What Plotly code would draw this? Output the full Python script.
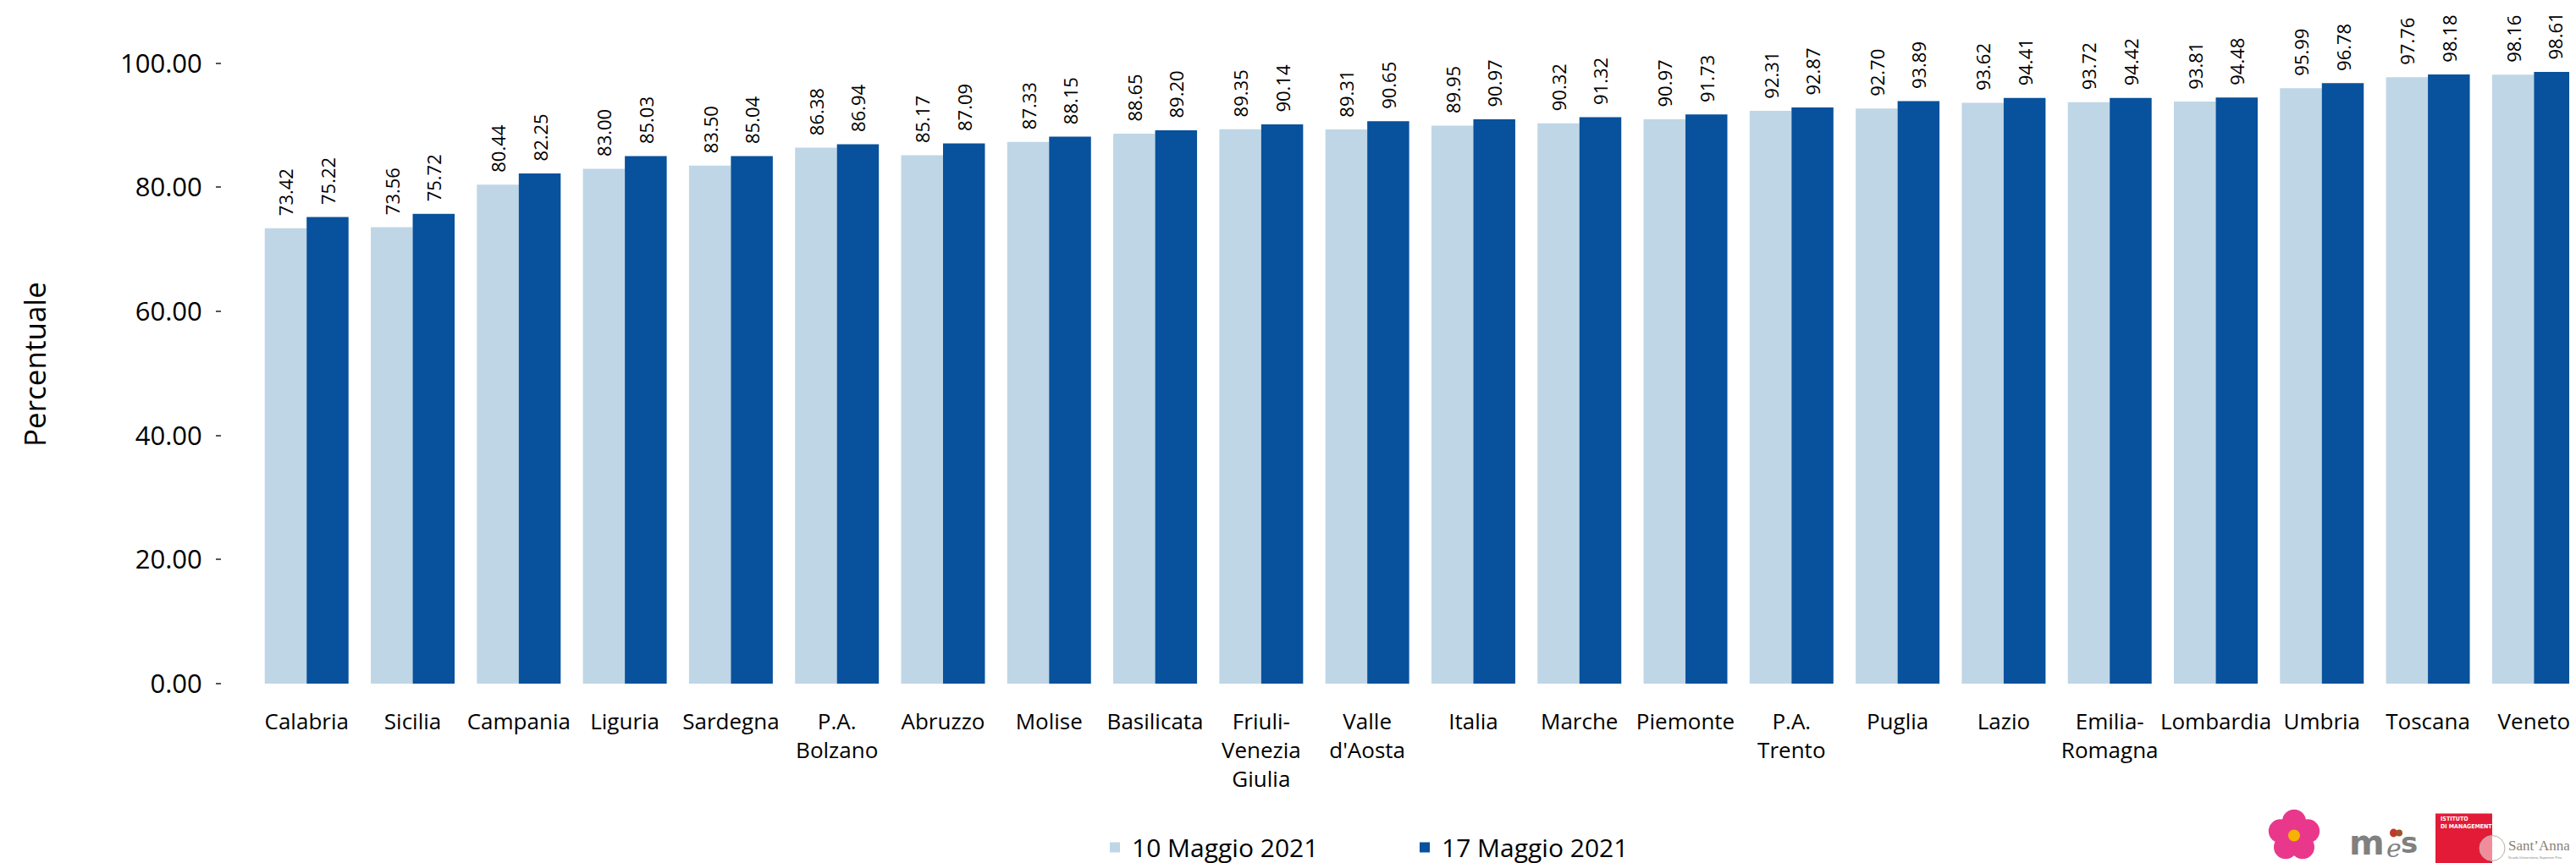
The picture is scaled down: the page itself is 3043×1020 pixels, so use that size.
import math
import plotly.graph_objects as go

# ---- data ----
regions = ["Calabria", "Sicilia", "Campania", "Liguria", "Sardegna", "P.A.<br>Bolzano",
           "Abruzzo", "Molise", "Basilicata", "Friuli-<br>Venezia<br>Giulia", "Valle<br>d'Aosta",
           "Italia", "Marche", "Piemonte", "P.A.<br>Trento", "Puglia", "Lazio",
           "Emilia-<br>Romagna", "Lombardia", "Umbria", "Toscana", "Veneto"]
series_names = ["10 Maggio 2021", "17 Maggio 2021"]
v_10_maggio = [73.42, 73.56, 80.44, 83.00, 83.50, 86.38, 85.17, 87.33, 88.65, 89.35, 89.31,
               89.95, 90.32, 90.97, 92.31, 92.70, 93.62, 93.72, 93.81, 95.99, 97.76, 98.16]
v_17_maggio = [75.22, 75.72, 82.25, 85.03, 85.04, 86.94, 87.09, 88.15, 89.20, 90.14, 90.65,
               90.97, 91.32, 91.73, 92.87, 93.89, 94.41, 94.42, 94.48, 96.78, 98.18, 98.61]
y_ticks = [0, 20, 40, 60, 80, 100]

# ---- layout geometry (pixels) ----
FW, FH = 3043, 1020
L, B = 254, 218
PW, PH = FW - L, FH - B

def px(x):
    return (x - L) / PW

def py(y):
    return (PH - y) / PH

FONT = "Open Sans"
colors = ["#bfd6e6", "#08519c"]

fig = go.Figure()
for name, vals, col in zip(series_names, [v_10_maggio, v_17_maggio], colors):
    fig.add_trace(go.Bar(
        x=regions, y=vals, name=name,
        marker=dict(color=col, line=dict(width=0)),
        texttemplate="\u00a0\u00a0%{y:.2f}",
        textposition="outside", textangle=-90, constraintext="none",
        textfont=dict(family=FONT, size=22, color="black"),
        cliponaxis=False,
    ))

fig.update_layout(
    width=FW, height=FH, autosize=False,
    margin=dict(l=L, r=0, t=0, b=B, pad=0),
    paper_bgcolor="white", plot_bgcolor="white",
    barmode="group", bargap=0.21, bargroupgap=0,
    font=dict(family=FONT, color="black"),
    showlegend=True,
    legend=dict(orientation="h", x=px(1337 - 48), xanchor="left", y=py(996), yanchor="middle",
                font=dict(family=FONT, size=30, color="black"),
                entrywidth=321, entrywidthmode="pixels", traceorder="normal"),
    xaxis=dict(type="category", range=[-0.80, 21.46], showgrid=False, showline=False,
               zeroline=False, ticks="", tickangle=0, ticklabelstandoff=27,
               tickfont=dict(family=FONT, size=26, color="black")),
    yaxis=dict(range=[0, 109.1], tickvals=y_ticks, tickformat=".2f", showgrid=False,
               showline=False, zeroline=False, ticks="outside", ticklen=6, tickwidth=1.5,
               tickcolor="#555555", ticklabelstandoff=10,
               tickfont=dict(family=FONT, size=31, color="black")),
)

# ---- logo approximations (bottom right) ----
shapes = []
cx, cy = 2702, 982
for k in range(5):
    a = math.radians(90 + k * 72)
    x = cx + 17 * math.cos(a)
    y = cy - 17 * math.sin(a)
    shapes.append(dict(type="circle", xref="paper", yref="paper",
                       x0=px(x - 14), x1=px(x + 14), y0=py(y + 14), y1=py(y - 14),
                       fillcolor="#e9388b", line=dict(width=0)))
shapes.append(dict(type="circle", xref="paper", yref="paper",
                   x0=px(cx - 7), x1=px(cx + 7), y0=py(cy + 7), y1=py(cy - 7),
                   fillcolor="#f6b400", line=dict(width=0)))
shapes.append(dict(type="rect", xref="paper", yref="paper",
                   x0=px(2869), x1=px(2936), y0=py(1015), y1=py(956),
                   fillcolor="#e31b37", line=dict(width=0)))
shapes.append(dict(type="circle", xref="paper", yref="paper",
                   x0=px(2921), x1=px(2951), y0=py(1012), y1=py(982),
                   fillcolor="rgba(255,255,255,0.5)", line=dict(width=1, color="#b8aca0")))
shapes.append(dict(type="circle", xref="paper", yref="paper",
                   x0=px(2815), x1=px(2824), y0=py(984), y1=py(974),
                   fillcolor="#c0392b", line=dict(width=0)))
shapes.append(dict(type="circle", xref="paper", yref="paper",
                   x0=px(2822), x1=px(2830), y0=py(983), y1=py(975),
                   fillcolor="#a0522d", line=dict(width=0)))
fig.update_layout(shapes=shapes)

annos = [
    dict(text="Percentuale", x=px(33), y=py(424), textangle=-90,
         font=dict(family=FONT, size=35, color="black")),
    dict(text="<b>m</b>", x=px(2788), y=py(990), font=dict(family="DejaVu Sans", size=40, color="#808080")),
    dict(text="<i>e</i>", x=px(2820), y=py(997), font=dict(family="DejaVu Serif", size=30, color="#808080")),
    dict(text="<b>s</b>", x=px(2838), y=py(990), font=dict(family="DejaVu Sans", size=34, color="#808080")),
    dict(text="<b>ISTITUTO</b>", x=px(2873), y=py(962), xanchor="left",
         font=dict(family="DejaVu Sans Condensed", size=7, color="white")),
    dict(text="<b>DI MANAGEMENT</b>", x=px(2873), y=py(971), xanchor="left",
         font=dict(family="DejaVu Sans Condensed", size=7, color="white")),
    dict(text="Sant\u2019Anna", x=px(2953), y=py(994), xanchor="left",
         font=dict(family="Liberation Serif", size=17, color="#8c8279")),
    dict(text="Scuola Universitaria Superiore Pisa", x=px(2953), y=py(1008), xanchor="left",
         font=dict(family="Liberation Sans", size=4, color="#8c8279")),
]
for a in annos:
    a.update(xref="paper", yref="paper", showarrow=False)
    a.setdefault("xanchor", "center")
    a["yanchor"] = "middle"
fig.update_layout(annotations=annos)

fig.write_html("out.html")
